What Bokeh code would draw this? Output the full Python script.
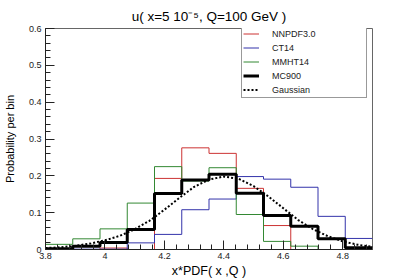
import numpy as np
from bokeh.plotting import figure
from bokeh.models import Range1d, FixedTicker, Legend, LegendItem
from bokeh.embed import file_html
from bokeh.resources import INLINE

# ---- data ----
bin_range = [3.8, 4.9]
n_bins = 12
nnpdf = [0.0, 0.0, 0.004, 0.0, 0.193, 0.276, 0.261, 0.166, 0.065, 0.0, 0.0, 0.0]
ct14 = [0.001, 0.001, 0.001, 0.018, 0.041, 0.108, 0.137, 0.198, 0.191, 0.169, 0.090, 0.030]
mmht14 = [0.014, 0.029, 0.056, 0.126, 0.225, 0.186, 0.222, 0.095, 0.022, 0.009, 0.0, 0.0]
mc900 = [0.002, 0.009, 0.019, 0.054, 0.152, 0.189, 0.204, 0.153, 0.092, 0.063, 0.029, 0.005]
gauss_x = [3.80, 3.85, 3.90, 3.95, 4.00, 4.05, 4.10, 4.15, 4.20, 4.25, 4.30, 4.35,
           4.40, 4.45, 4.50, 4.55, 4.60, 4.65, 4.70, 4.75, 4.80, 4.85, 4.90]
gauss_y = [0.004, 0.006, 0.010, 0.016, 0.025, 0.037, 0.055, 0.078, 0.108, 0.140, 0.170, 0.190,
           0.198, 0.192, 0.172, 0.144, 0.112, 0.080, 0.055, 0.036, 0.022, 0.013, 0.007]
x_ticks = [3.8, 4.0, 4.2, 4.4, 4.6, 4.8]
x_tick_labels = ["3.8", "4", "4.2", "4.4", "4.6", "4.8"]
y_ticks = [0.0, 0.1, 0.2, 0.3, 0.4, 0.5, 0.6]
y_tick_labels = ["0", "0.1", "0.2", "0.3", "0.4", "0.5", "0.6"]
title_text = "u( x=5 10\u207b\u2075, Q=100 GeV )"
x_title = "x*PDF( x ,Q )"
y_title = "Probability per bin"

FONT = "Liberation Sans"
edges = np.linspace(bin_range[0], bin_range[1], n_bins + 1)

p = figure(width=413, height=280, output_backend="svg", toolbar_location=None,
           x_range=Range1d(3.8, 4.9), y_range=Range1d(0, 0.6),
           min_border_left=43, min_border_right=41, min_border_top=28, min_border_bottom=29)
p.xgrid.visible = False
p.ygrid.visible = False
p.outline_line_color = "#666666"
p.outline_line_width = 1
p.background_fill_color = "white"
p.border_fill_color = "white"

p.title.text = title_text
p.title.align = "center"
p.title.vertical_align = "top"
p.title.text_font = FONT
p.title.text_font_size = "13.5px"
p.title.text_font_style = "normal"
p.title.text_color = "black"
p.title.standoff = 6

for ax, ticks, labels in ((p.xaxis[0], x_ticks, x_tick_labels), (p.yaxis[0], y_ticks, y_tick_labels)):
    ax.axis_line_color = "#222222"
    ax.major_tick_in = 9
    ax.major_tick_out = 0
    ax.minor_tick_in = 5
    ax.minor_tick_out = 0
    ax.major_tick_line_color = "#222222"
    ax.minor_tick_line_color = "#222222"
    ax.major_label_text_font = FONT
    ax.major_label_text_font_size = "9px"
    ax.major_label_text_color = "#222222"
    ax.major_label_standoff = 4
    ax.major_label_overrides = {t: l for t, l in zip(ticks, labels)}
    ax.axis_label_text_font = FONT
    ax.axis_label_text_font_style = "normal"
    ax.axis_label_text_color = "black"

p.xaxis[0].ticker = FixedTicker(ticks=x_ticks, minor_ticks=list(np.round(np.arange(3.8, 4.9, 0.04), 3)))
p.yaxis[0].ticker = FixedTicker(ticks=y_ticks, minor_ticks=list(np.round(np.arange(0, 0.6001, 0.02), 3)))
p.xaxis[0].major_label_standoff = 3
p.xaxis[0].axis_label = x_title
p.xaxis[0].axis_label_text_font_size = "12.5px"
p.xaxis[0].axis_label_standoff = 2
p.yaxis[0].axis_label = y_title
p.yaxis[0].axis_label_text_font_size = "11px"
p.yaxis[0].axis_label_standoff = 10


def hist(vals, color, width, dash="solid"):
    yv = list(vals) + [vals[-1]]
    return p.step(list(edges), yv, mode="after", line_color=color, line_width=width, line_dash=dash)

r1 = hist(nnpdf, "#cc3333", 1)
r2 = hist(ct14, "#3333aa", 1)
r3 = hist(mmht14, "#338833", 1)
r4 = hist(mc900, "black", 3)
r5 = p.line(gauss_x, gauss_y, line_color="black", line_width=2, line_dash="2 2")

legend = Legend(items=[LegendItem(label="NNPDF3.0", renderers=[r1]),
                       LegendItem(label="CT14", renderers=[r2]),
                       LegendItem(label="MMHT14", renderers=[r3]),
                       LegendItem(label="MC900", renderers=[r4]),
                       LegendItem(label="Gaussian", renderers=[r5])],
                location=(196, 151), orientation="vertical",
                padding=1, spacing=1, margin=0,
                label_height=13, glyph_height=13, glyph_width=16, label_standoff=13,
                label_width=93,
                label_text_font=FONT, label_text_font_size="9px", label_text_color="#222222",
                border_line_color="#333333", border_line_width=1,
                background_fill_color="white", background_fill_alpha=1)
p.add_layout(legend, "center")

open("out.html", "w").write(file_html(p, INLINE))
